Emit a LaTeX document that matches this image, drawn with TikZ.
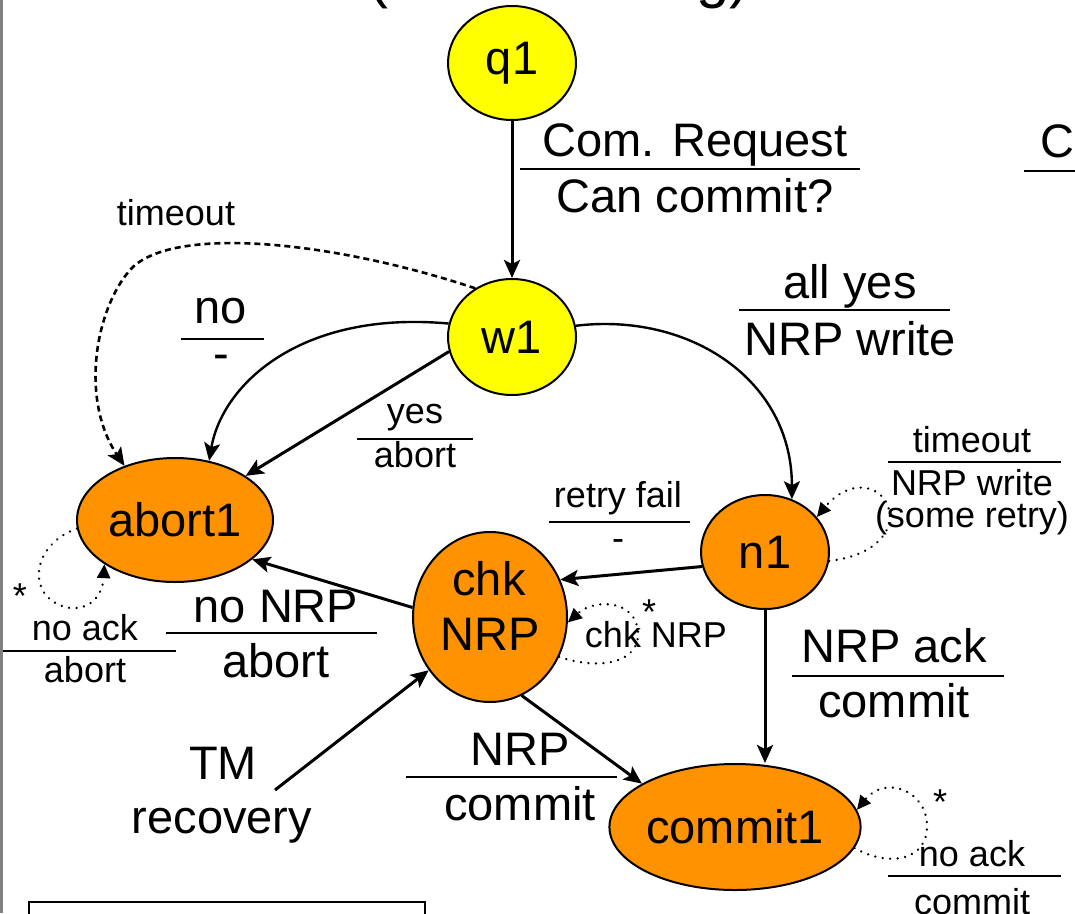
\documentclass[tikz,border=0pt]{standalone}
\usepackage{fontspec}
\setmainfont{Liberation Sans}
\usetikzlibrary{shapes.geometric, arrows.meta}

\definecolor{stYellow}{RGB}{255,255,0}
\definecolor{stOrange}{RGB}{255,146,0}

\begin{document}
\begin{tikzpicture}[x=1pt, y=-1pt,
  big/.style={font=\fontsize{47}{56}\selectfont, inner sep=0pt, anchor=base},
  small/.style={font=\fontsize{36}{43}\selectfont, inner sep=0pt, anchor=base},
  stnode/.style={ellipse, draw=black, line width=2pt, inner sep=0pt,
                 font=\fontsize{47}{56}\selectfont},
  ystate/.style={stnode, fill=stYellow},
  ostate/.style={stnode, fill=stOrange},
  conn/.style={line width=3pt, -{Stealth[length=18pt, width=16pt, inset=4pt]}},
  thinconn/.style={conn, line width=2.4pt},
  dashconn/.style={conn, line width=2.6pt, dash pattern=on 6pt off 4pt},
  loopconn/.style={line width=2.6pt, line cap=round, dash pattern=on 0.01pt off 7.5pt,
                   -{Triangle[length=14pt, width=13pt]}},
  fracrule/.style={line width=2pt},
]
\useasboundingbox (0,0) rectangle (1075,913);
\clip (0,0) rectangle (1075,913);

% page frame pieces
\draw[gray, line width=2.5pt] (1.25,0) -- (1.25,913);
\draw[line width=2.5pt] (29,902) rectangle (425,930);

% title, mostly above the visible area
\node[font=\fontsize{60}{72}\selectfont, inner sep=0pt, anchor=base west] (ttlA) at (368,-4) {(};
\node[font=\fontsize{60}{72}\selectfont, inner sep=0pt, anchor=base west] (ttlB) at (696,-4) {g)};

% states
\node[ystate, minimum width=128pt, minimum height=114pt] (q1) at (512,63) {q1};
\node[ystate, minimum width=128pt, minimum height=116pt] (w1) at (512,337) {w1};
\node[ostate, minimum width=196pt, minimum height=124pt] (abort1) at (175,520) {abort1};
\node[ostate, minimum width=154pt, minimum height=170pt] (chk) at (490,617) {};
\node[big] (chkA) at (489,595) {chk};
\node[big] (chkB) at (490,650) {NRP};
\node[ostate, minimum width=128pt, minimum height=114pt] (n1) at (765,552) {n1};
\node[ostate, minimum width=250pt, minimum height=126pt] (commit1) at (735,827) {commit1};

% transitions
\draw[conn] (q1.south) -- (w1.north);
\draw[thinconn] (w1.168) .. controls (300,310) and (222,385) .. (abort1.60);
\draw[conn] (w1.193) -- (abort1.32);
\draw[dashconn] (w1.127) .. controls (330,240) and (170,225) .. (130,270)
                .. controls (95,310) and (80,400) .. (abort1.133);
\draw[thinconn] (w1.10) .. controls (690,312) and (792,380) .. (n1.63);
\draw[conn] (n1.193) -- (chk.28);
\draw[conn] (n1.south) -- (n1.south |- commit1.north);
\draw[conn] (chk.173) -- (abort1.333);
\coordinate (tmfoot) at (275,790);
\draw[conn] (tmfoot) -- (chk.221);
\draw[conn] (chk.292) -- (commit1.155);

% self loops
\draw[loopconn] (abort1.185) .. controls (30,545) and (25,600) .. (70,608)
                .. controls (95,610) and (103,590) .. (abort1.212);
\draw[loopconn] (n1.-8) .. controls (880,555) and (900,525) .. (885,500)
                .. controls (872,482) and (845,483) .. (n1.34);
\draw[loopconn] (chk.-30) .. controls (605,672) and (640,660) .. (638,632)
                .. controls (636,600) and (595,598) .. (chk.-4);
\draw[loopconn] (commit1.-10) .. controls (890,868) and (928,860) .. (927,825)
                .. controls (926,790) and (885,775) .. (commit1.8);

% transition labels
\node[big] (reqA) at (695,156) {Com. Request};
\draw[fracrule] (520,169) -- (860,169);
\node[big] (reqB) at (695,212) {Can commit?};

\node[big, anchor=base west] (rC) at (1040,157) {C};
\draw[fracrule] (1024,171) -- (1075,171);

\node[big] (allA) at (850,298) {all yes};
\draw[fracrule] (739,310) -- (950,310);
\node[big] (allB) at (850,355) {NRP write};

\node[big] (noA) at (221,323) {no};
\draw[fracrule] (181,339) -- (264,339);
\node[big] (noB) at (221,369) {-};

\node[small] (yesA) at (415,423) {yes};
\draw[fracrule] (357,439) -- (473,439);
\node[small] (yesB) at (415,467) {abort};

\node[small] (tmo) at (176,225) {timeout};

\node[small] (star1) at (20,608) {*};
\node[small] (naA) at (85,640) {no ack};
\draw[fracrule] (3,651) -- (176,651);
\node[small] (naB) at (85,682) {abort};

\node[big] (nnA) at (276,622) {no NRP};
\draw[fracrule] (166,633) -- (377,633);
\node[big] (nnB) at (276,677) {abort};

\node[small] (rfA) at (618,507) {retry fail};
\draw[fracrule] (549,522) -- (690,522);
\node[small] (rfB) at (618,550) {-};

\node[small] (ntA) at (972,452) {timeout};
\draw[fracrule] (888,462) -- (1061,462);
\node[small] (ntB) at (972,495) {NRP write};
\node[small] (ntC) at (972,527) {(some retry)};

\node[small] (star2) at (649,624) {*};
\node[small] (ckl) at (656,647) {chk NRP};

\node[big] (akA) at (894,662) {NRP ack};
\draw[fracrule] (792,676) -- (1004,676);
\node[big] (akB) at (894,717) {commit};

\node[big] (ncA) at (520,765) {NRP};
\draw[fracrule] (406,777) -- (617,777);
\node[big] (ncB) at (520,820) {commit};

\node[big] (tmA) at (223,779) {TM};
\node[big] (tmB) at (222,833) {recovery};

\node[small] (star3) at (940,814) {*};
\node[small] (cnA) at (972,866) {no ack};
\draw[fracrule] (888,876) -- (1061,876);
\node[small] (cnB) at (972,914) {commit};
\end{tikzpicture}
\end{document}
